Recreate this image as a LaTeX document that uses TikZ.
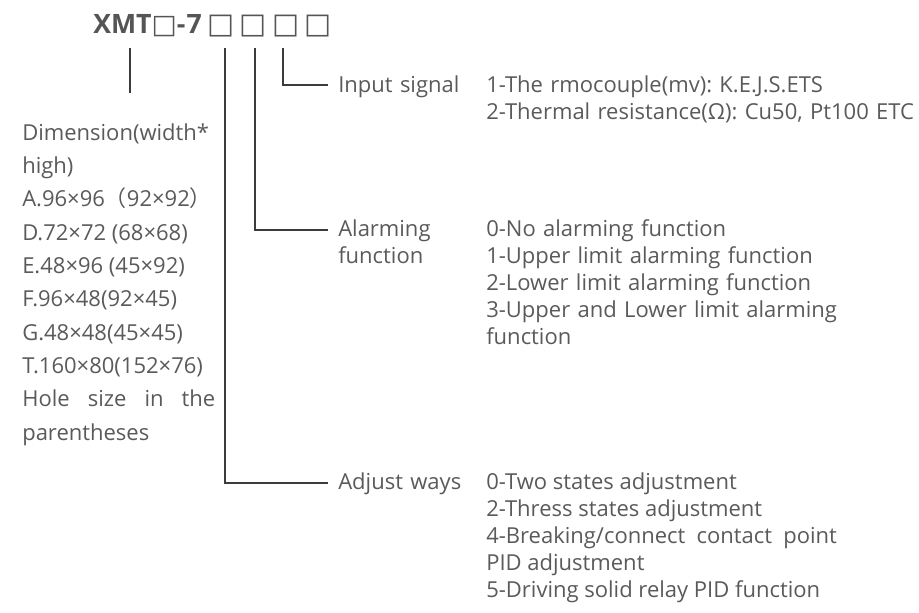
\documentclass[tikz,border=0pt]{standalone}
\usepackage{fontspec}
\setmainfont{Open Sans}
\newfontfamily\boxfont{DejaVu Sans}
\newfontfamily\cjk{Noto Sans CJK SC}
\definecolor{textgray}{RGB}{90,90,90}
\definecolor{titlegray}{RGB}{85,85,85}
\definecolor{linegray}{RGB}{60,60,60}
\usetikzlibrary{calc, positioning}
\tikzset{
  parttext/.style={anchor=base west, inner sep=0pt, text=textgray, font=\fontsize{16.5pt}{20.25pt}\selectfont\frenchspacing, text width=340pt, align=left},
  partname/.style={parttext, text width=110pt},
  itemlist/.style={parttext, text width=263pt, align=justify},
  dimlist/.style={parttext, font=\fontsize{16.5pt}{25pt}\selectfont\frenchspacing, text width=144.75pt, align=justify},
  leader/.style={draw=linegray, line width=1.1pt},
}
\newcommand{\slot}[1][21.5pt]{{\boxfont\mdseries\fontsize{#1}{#1}\selectfont □}}

\begin{document}
\begin{tikzpicture}[x=0.75pt, y=-0.75pt]
  \useasboundingbox (0,0) rectangle (919,612);
  \node[anchor=base west, inner sep=0pt, text=titlegray, font=\fontsize{20pt}{24pt}\selectfont\bfseries] (model) at (93,33) {XMT\slot[20pt]-\hspace{1pt}7\hspace{4pt}\slot\hspace{4pt}\slot\hspace{4pt}\slot\hspace{4pt}\slot};

  \coordinate (dimtop) at (130,48);
  \coordinate (dimend) at (130,93);
  \coordinate (adjtop) at (225,48);
  \coordinate (alarmtop) at (255,48);
  \coordinate (inputtop) at (283,48);
  \coordinate (inputend) at (328,85);
  \coordinate (alarmend) at (328,230);
  \coordinate (adjend) at (328,483);

  \draw[leader] (dimtop) -- (dimend);
  \draw[leader] (inputtop) |- (inputend);
  \draw[leader] (alarmtop) |- (alarmend);
  \draw[leader] (adjtop) |- (adjend);

  \node[dimlist] (dimension) at (22,140) {Dimension(width*\\high)\\A.96×96{\cjk（}92×92{\cjk）}\\D.72×72 (68×68)\\E.48×96 (45×92)\\F.96×48(92×45)\\G.48×48(45×45)\\T.160×80(152×76)\\Hole size in the\linebreak parentheses};

  \node[partname] (input) at (338,92) {Input signal};
  \node[parttext] (inputlist) at (486,92) {1-The rmocouple(mv): K.E.J.S.ETS\\2-Thermal resistance(Ω): Cu50, Pt100 ETC};

  \node[partname] (alarm) at (338,236) {Alarming\\function};
  \node[parttext] (alarmlist) at (486,236) {0-No alarming function\\1-Upper limit alarming function\\2-Lower limit alarming function\\3-Upper and Lower limit alarming\\function};

  \node[partname] (adjust) at (338,489) {Adjust ways};
  \node[itemlist] (adjustlist) at (486,489) {0-Two states adjustment\\2-Thress states adjustment\\4-Breaking/connect contact point\linebreak PID adjustment\\5-Driving solid relay PID function};
\end{tikzpicture}
\end{document}
